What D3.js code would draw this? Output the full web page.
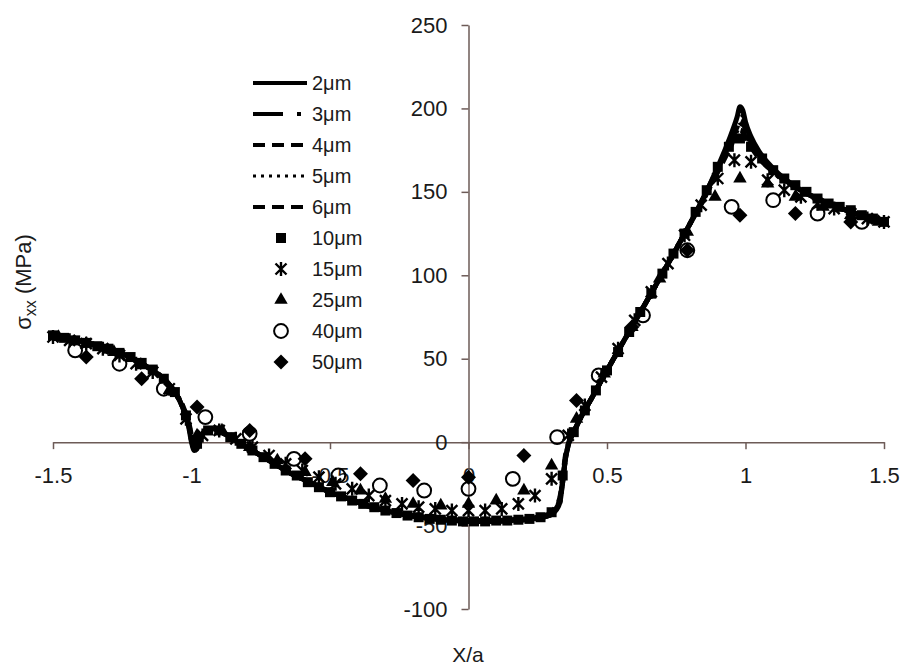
<!DOCTYPE html>
<html>
<head>
<meta charset="utf-8">
<script src="https://cdn.jsdelivr.net/npm/d3@7"></script>
<style>
  body { margin: 0; background: #fff; }
  text { font-family: "Liberation Sans", Arial, sans-serif; fill: #1a1a1a; }
</style>
</head>
<body>
<script>
// X/a positions shared by the fine-mesh curves
const lineX = [-1.5,-1.4,-1.3,-1.2,-1.15,-1.1,-1.06,-1.03,-1.01,-1.0,-0.99,-0.98,-0.97,-0.95,-0.92,-0.88,-0.84,-0.8,-0.75,-0.7,-0.65,-0.6,-0.55,-0.5,-0.45,-0.4,-0.35,-0.3,-0.25,-0.2,-0.15,-0.1,-0.05,0,0.05,0.1,0.15,0.2,0.25,0.29,0.31,0.33,0.34,0.35,0.36,0.38,0.4,0.45,0.5,0.6,0.7,0.8,0.85,0.9,0.94,0.97,0.98,0.99,1.0,1.02,1.05,1.1,1.2,1.3,1.4,1.5];

// sigma_xx (MPa) for each curve
const s2um = [64,60.5,56,49,44,38,30,20,9,0,-5,-4,1,7,8,5,1,-3,-8,-13,-18,-22,-26,-30,-33,-36,-39,-41,-43,-44.5,-45.5,-46.5,-47,-47.5,-47.5,-47.5,-47,-46.5,-45.5,-44,-42,-36,-24,-10,-2,6,13,28,43,72,101,131,147,165,181,195,201,199,192,183,174,164,151,143,137,132];
const s3um = [64,60.5,56,49,44,38,30,20,9,1,-4,-3,1,7,8,5,1,-3,-8,-13,-18,-22,-26,-30,-33,-36,-39,-41,-43,-44.5,-45.5,-46.5,-47,-47.5,-47.5,-47.5,-47,-46.5,-45.5,-44,-42,-36,-24,-10,-2,6,13,28,43,72,101,131,147,164,179,192,197,196,190,182,173,163,151,143,137,132];
const s4um = [64,60.5,56,49,44,38,30,20,10,2,-3,-2,2,7,8,5,1,-3,-8,-13,-18,-22,-26,-30,-33,-36,-39,-41,-43,-44.5,-45.5,-46,-47,-47,-47.5,-47,-47,-46.5,-45.5,-44,-41,-35,-23,-10,-2,6,13,28,43,72,101,131,147,164,178,189,193,192,187,180,172,163,151,143,137,132];
const s5um = [64,60.5,56,49,44,38,30,21,11,3,-2,-1,2,7,8,5,1,-3,-8,-13,-18,-22,-26,-30,-33,-36,-39,-41,-43,-44,-45.5,-46,-46.5,-47,-47,-47,-46.5,-46,-45,-43.5,-41,-34,-22,-9,-2,6,13,28,43,72,101,131,146,163,177,187,190,189,185,179,171,162,151,143,137,132];
const s6um = [64,60.5,56,49,44,38,30,21,12,4,0,0,3,7,8,5,1,-3,-8,-13,-18,-22,-26,-30,-33,-36,-38.5,-41,-42.5,-44,-45,-46,-46.5,-46.5,-47,-46.5,-46.5,-46,-45,-43,-40,-33,-21,-8,-1,6,13,28,43,72,101,131,146,162,175,185,187,186,183,177,170,162,151,143,137,132];

// coarse-mesh results, [X/a, sigma_xx]
const m10um = [[-1.5,64],[-1.46,62.5],[-1.42,61],[-1.38,59.5],[-1.34,57.5],[-1.3,56],[-1.26,53.5],[-1.22,51],[-1.18,47.5],[-1.14,43.5],[-1.1,38],[-1.06,30],[-1.02,16],[-0.98,-1],[-0.94,7],[-0.9,7],[-0.86,3],[-0.82,-1],[-0.78,-5],[-0.74,-9],[-0.7,-13],[-0.66,-17],[-0.62,-20],[-0.58,-24],[-0.54,-27],[-0.5,-30],[-0.46,-32.5],[-0.42,-35],[-0.38,-37],[-0.34,-39],[-0.3,-41],[-0.26,-42.5],[-0.22,-44],[-0.18,-45],[-0.14,-46],[-0.1,-46.5],[-0.06,-47],[-0.02,-47.5],[0.02,-47.5],[0.06,-47.5],[0.1,-47],[0.14,-47],[0.18,-46.5],[0.22,-46],[0.26,-45],[0.3,-42],[0.34,-20],[0.38,6],[0.42,19],[0.46,31],[0.5,43],[0.54,54],[0.58,66],[0.62,78],[0.66,89],[0.7,101],[0.74,113],[0.78,125],[0.82,138],[0.86,151],[0.9,165],[0.94,177],[0.98,182],[1.02,177],[1.06,170],[1.1,163],[1.14,158],[1.18,154],[1.22,150],[1.26,146],[1.3,143],[1.34,141],[1.38,139],[1.42,136],[1.46,134],[1.5,132]];
const m15um = [[-1.5,63],[-1.44,61],[-1.38,59],[-1.32,56],[-1.26,52],[-1.2,47],[-1.14,42],[-1.08,32],[-1.02,14],[-0.96,4],[-0.9,7],[-0.84,2],[-0.78,-3],[-0.72,-8],[-0.66,-13],[-0.6,-17],[-0.54,-21],[-0.48,-25],[-0.42,-28],[-0.36,-32],[-0.3,-35],[-0.24,-37],[-0.18,-39],[-0.12,-40],[-0.06,-41],[0,-41],[0.06,-41],[0.12,-40],[0.18,-37],[0.24,-32],[0.3,-22],[0.36,4],[0.42,22],[0.48,39],[0.54,56],[0.6,73],[0.66,90],[0.72,107],[0.78,124],[0.84,142],[0.9,158],[0.96,169],[1.02,168],[1.08,157],[1.14,151],[1.2,147],[1.26,143],[1.32,140],[1.38,137],[1.44,134],[1.5,132]];
const m25um = [[-1.48,63],[-1.38,59],[-1.28,54],[-1.18,46],[-1.08,31],[-0.98,4],[-0.89,7],[-0.79,-3],[-0.69,-11],[-0.59,-18],[-0.49,-24],[-0.39,-29],[-0.3,-34],[-0.2,-37],[-0.1,-38],[0,-37],[0.1,-35],[0.2,-29],[0.3,-14],[0.39,14],[0.49,41],[0.59,69],[0.69,98],[0.79,126],[0.89,147],[0.98,158],[1.08,155],[1.18,147],[1.28,141],[1.38,136],[1.48,132]];
const m40um = [[-1.42,55],[-1.26,47],[-1.1,32],[-0.95,15],[-0.79,5],[-0.63,-10],[-0.47,-20],[-0.32,-26],[-0.16,-29],[0,-28],[0.16,-22],[0.32,3],[0.47,40],[0.63,76],[0.79,115],[0.95,141],[1.1,145],[1.26,137],[1.42,132]];
const m50um = [[-1.38,51],[-1.18,38],[-0.98,21],[-0.79,7],[-0.59,-10],[-0.39,-19],[-0.2,-23],[0,-21],[0.2,-8],[0.39,25],[0.59,69],[0.79,115],[0.98,136],[1.18,137],[1.38,132]];

const xTicks = [-1.5, -1, -0.5, 0, 0.5, 1, 1.5];
const yTicks = [-100, -50, 0, 50, 100, 150, 200, 250];

const lineSeries = [
  {name: "2μm", values: s2um, dash: null},
  {name: "3μm", values: s3um, dash: "30,14,4,14"},
  {name: "4μm", values: s4um, dash: "12,7"},
  {name: "5μm", values: s5um, dash: "3,5"},
  {name: "6μm", values: s6um, dash: "12,7"}
];
const markerSeries = [
  {name: "10μm", values: m10um, shape: "square"},
  {name: "15μm", values: m15um, shape: "star"},
  {name: "25μm", values: m25um, shape: "triangle"},
  {name: "40μm", values: m40um, shape: "circle"},
  {name: "50μm", values: m50um, shape: "diamond"}
];

// set the dimensions and margins of the graph
const margin = {top: 25, right: 21, bottom: 57, left: 53},
      width = 905 - margin.left - margin.right,
      height = 666 - margin.top - margin.bottom;

const root = d3.select("body")
  .append("svg")
  .attr("width", width + margin.left + margin.right)
  .attr("height", height + margin.top + margin.bottom);

const svg = root.append("g")
  .attr("transform", `translate(${margin.left}, ${margin.top})`);

const x = d3.scaleLinear().domain([-1.5, 1.5]).range([0, width]);
const y = d3.scaleLinear().domain([-100, 250]).range([height, 0]);

const axisColor = "#6d5b57";

// X axis crosses at sigma = 0
const gx = svg.append("g")
  .attr("transform", `translate(0, ${y(0)})`)
  .call(d3.axisBottom(x).tickValues(xTicks).tickSize(7).tickSizeOuter(0)
    .tickPadding(18).tickFormat(d => String(d)));

// Y axis crosses at X/a = 0
const gy = svg.append("g")
  .attr("transform", `translate(${x(0)}, 0)`)
  .call(d3.axisLeft(y).tickValues(yTicks).tickSize(7).tickSizeOuter(0)
    .tickPadding(14).tickFormat(d => String(d)));

[gx, gy].forEach(g => {
  g.select(".domain").attr("stroke", axisColor).attr("stroke-width", 1.5);
  g.selectAll(".tick line").attr("stroke", axisColor).attr("stroke-width", 1.5);
  g.selectAll(".tick text").attr("font-size", 22).attr("fill", "#1a1a1a")
    .attr("font-family", "Liberation Sans, Arial, sans-serif");
});

// axis titles
root.append("text")
  .attr("text-anchor", "middle")
  .attr("x", 468)
  .attr("y", 662)
  .attr("font-size", 21)
  .text("X/a");

const yTitle = root.append("text")
  .attr("text-anchor", "middle")
  .attr("transform", "translate(31, 282) rotate(-90)")
  .attr("font-size", 22);
yTitle.append("tspan").text("σ");
yTitle.append("tspan").attr("font-size", 16).attr("dy", 5).text("xx");
yTitle.append("tspan").attr("dy", -5).text(" (MPa)");

// marker shapes
function markerPath(shape) {
  if (shape === "square") return d3.symbol(d3.symbolSquare, 100)();
  if (shape === "triangle") return d3.symbol(d3.symbolTriangle, 78)();
  if (shape === "circle") return d3.symbol(d3.symbolCircle, 150)();
  if (shape === "diamond") return "M0,-7.5L7.5,0L0,7.5L-7.5,0Z";
  return "M0,-7L0,7M-5.5,-5.5L5.5,5.5M-5.5,5.5L5.5,-5.5"; // asterisk
}
function styleMarker(sel, shape) {
  if (shape === "circle") {
    sel.attr("fill", "none").attr("stroke", "#000").attr("stroke-width", 2);
  } else if (shape === "star") {
    sel.attr("fill", "none").attr("stroke", "#000").attr("stroke-width", 2.4);
  } else {
    sel.attr("fill", "#000");
  }
}

// curves
const line = d3.line().curve(d3.curveMonotoneX);
lineSeries.slice().reverse().forEach(s => {
  svg.append("path")
    .datum(lineX.map((d, i) => [d, s.values[i]]))
    .attr("fill", "none")
    .attr("stroke", "#000")
    .attr("stroke-width", 5)
    .attr("stroke-dasharray", s.dash)
    .attr("d", line.x(d => x(d[0])).y(d => y(d[1])));
});

// markers
markerSeries.forEach(s => {
  svg.append("g")
    .selectAll("path")
    .data(s.values)
    .join("path")
      .attr("transform", d => `translate(${x(d[0])}, ${y(d[1])})`)
      .attr("d", markerPath(s.shape))
      .call(styleMarker, s.shape);
});

// legend
const legend = root.append("g");
const legendY = i => 83 + 31 * i;
lineSeries.forEach((s, i) => {
  legend.append("line")
    .attr("x1", 253).attr("x2", 307)
    .attr("y1", legendY(i)).attr("y2", legendY(i))
    .attr("stroke", "#000")
    .attr("stroke-width", s.dash === "3,5" ? 3 : 4)
    .attr("stroke-dasharray", s.dash);
  legend.append("text")
    .attr("x", 312).attr("y", legendY(i))
    .attr("dy", "0.35em")
    .attr("font-size", 20)
    .text(s.name);
});
markerSeries.forEach((s, j) => {
  const i = j + lineSeries.length;
  legend.append("path")
    .attr("transform", `translate(281, ${legendY(i)})`)
    .attr("d", markerPath(s.shape))
    .call(styleMarker, s.shape);
  legend.append("text")
    .attr("x", 312).attr("y", legendY(i))
    .attr("dy", "0.35em")
    .attr("font-size", 20)
    .text(s.name);
});
</script>
</body>
</html>
